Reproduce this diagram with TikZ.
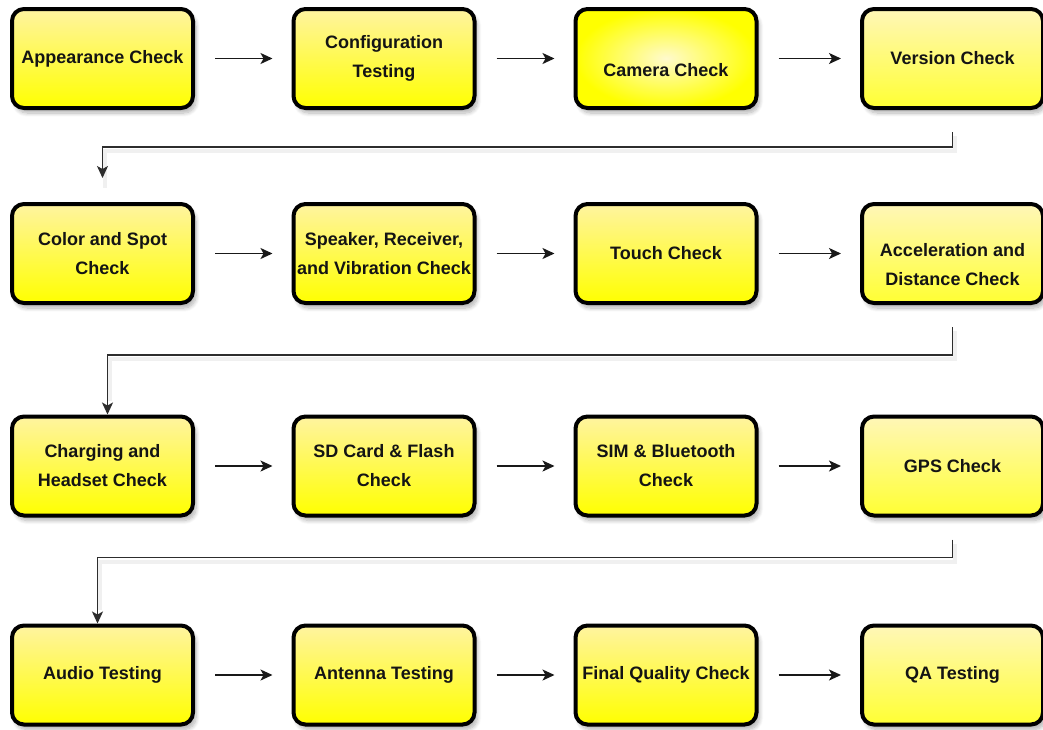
\documentclass[tikz,border=0pt]{standalone}
\usepackage{fontspec}
\setmainfont{Liberation Sans}
\usetikzlibrary{arrows.meta,shadows.blur}

\definecolor{paleyellow}{RGB}{255,244,160}
\definecolor{brightyellow}{RGB}{255,255,0}
\definecolor{glowyellow}{RGB}{255,250,205}
\definecolor{linegray}{RGB}{45,45,45}

\tikzset{
  checkbox/.style={draw=black, line width=4pt, rounded corners=12pt,
    minimum width=181pt, minimum height=99pt, inner sep=0pt, align=center,
    top color=paleyellow, bottom color=brightyellow, text=black!92,
    font=\bfseries\fontsize{18}{29}\selectfont,
    blur shadow={shadow xshift=3pt, shadow yshift=-5pt,
      shadow blur radius=4pt, shadow blur steps=8, shadow opacity=30}},
  palebox/.style={top color=paleyellow!75!white, bottom color=brightyellow!80!white},
  glowbox/.style={inner color=glowyellow, outer color=brightyellow},
  sunk/.style={text height=#1},
  flow/.style={-{Stealth[length=12pt,width=11pt,inset=3pt]}, line width=1.5pt,
    black!90, shorten <=20pt, shorten >=19pt},
  turn/.style={-{Stealth[length=12pt,width=11pt,inset=3pt]}, line width=1.4pt,
    linegray, shorten <=22pt,
    preaction={draw=black!6, line width=4pt, arrows=-, shorten >=18pt,
      transform canvas={shift={(2pt,-4pt)}}}}
}

\begin{document}
\begin{tikzpicture}[x=1pt,y=-1pt]
  \useasboundingbox (0,0) rectangle (1043,729);

  % row 1
  \node[checkbox] (appear) at (102.5,58.5) {Appearance Check};
  \node[checkbox] (config) at (384,58.5) {Configuration\\Testing};
  \node[checkbox, glowbox, sunk=37pt] (camera) at (666,58.5) {Camera Check};
  \node[checkbox, palebox] (version) at (952.5,58.5) {Version Check};

  % row 2
  \node[checkbox] (colorspot) at (102.5,253.5) {Color and Spot\\Check};
  \node[checkbox] (speaker) at (384,253.5) {Speaker, Receiver,\\and Vibration Check};
  \node[checkbox] (touch) at (666,253.5) {Touch Check};
  \node[checkbox, palebox, sunk=65pt] (accel) at (952.5,253.5) {Acceleration and\\Distance Check};

  % row 3
  \node[checkbox] (charging) at (102.5,466) {Charging and\\Headset Check};
  \node[checkbox] (sdcard) at (384,466) {SD Card \& Flash\\Check};
  \node[checkbox] (simbt) at (666,466) {SIM \& Bluetooth\\Check};
  \node[checkbox, palebox] (gps) at (952.5,466) {GPS Check};

  % row 4
  \node[checkbox] (audio) at (102.5,675) {Audio Testing};
  \node[checkbox] (antenna) at (384,675) {Antenna Testing};
  \node[checkbox] (final) at (666,675) {Final Quality Check};
  \node[checkbox, palebox] (qa) at (952.5,675) {QA Testing};

  % arrows along the rows
  \foreach \a/\b in {appear/config, config/camera, camera/version,
                     colorspot/speaker, speaker/touch, touch/accel,
                     charging/sdcard, sdcard/simbt, simbt/gps,
                     audio/antenna, antenna/final, final/qa}
    \draw[flow] (\a.east) -- (\b.west);

  % wrap from the end of one row to the start of the next
  \draw[turn, shorten >=24pt] (version.south) -- ++(0,37) -| (colorspot.north);
  \draw[turn] (accel.south) -- ++(0,50) -| ([xshift=5pt]charging.north);
  \draw[turn] (gps.south) -- ++(0,40) -| ([xshift=-5pt]audio.north);
\end{tikzpicture}
\end{document}
